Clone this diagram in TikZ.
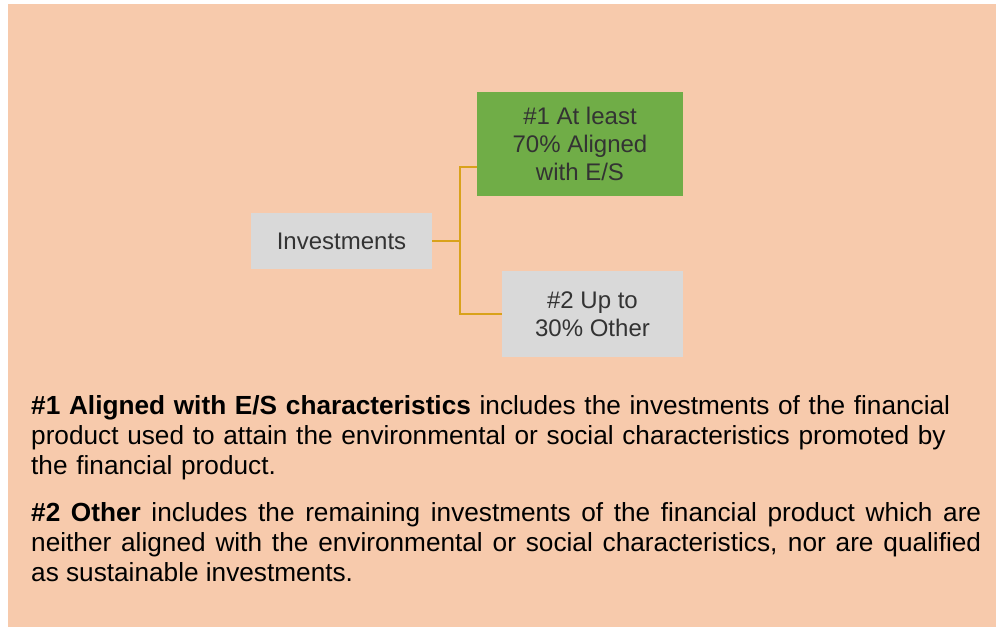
\documentclass[tikz,border=0pt]{standalone}
\usepackage{fontspec}
\setmainfont{Liberation Sans}
\definecolor{bgpeach}{HTML}{F7CAAC}
\definecolor{boxgray}{HTML}{D9D9D9}
\definecolor{boxgreen}{HTML}{70AD47}
\definecolor{conngold}{HTML}{D9A21B}
\definecolor{boxtext}{HTML}{333333}
\tikzset{
  catbox/.style={rectangle, inner sep=0pt, align=center, text=boxtext,
    font=\fontsize{24pt}{28pt}\selectfont},
  conn/.style={draw=conngold, line width=1.5pt},
  para/.style={anchor=north west, inner sep=0pt, text width=950pt,
    font=\fontsize{26.2pt}{30pt}\selectfont, text=black}
}
\begin{document}
\begin{tikzpicture}[x=1pt,y=-1pt]
\useasboundingbox (0,0) rectangle (996,627);
\fill[bgpeach] (8,4) rectangle (996,627);
\node[catbox, fill=boxgray, minimum width=181pt, minimum height=56pt] (inv) at (341.5,241) {Investments};
\node[catbox, fill=boxgreen, minimum width=206pt, minimum height=104pt] (al) at (580,144) {\#1 At least\\70\% Aligned\\with E/S};
\node[catbox, fill=boxgray, minimum width=181pt, minimum height=86pt] (ot) at (592.5,314) {\#2 Up to\\30\% Other};
\draw[conn] (inv.east) -- ++(28,0) coordinate (jn);
\draw[conn] (jn) |- ([yshift=-23pt]al.west);
\draw[conn] (jn) |- (ot.west);
\node[para, align=left] (p1) at (31,395) {\textbf{\#1 Aligned with E/S characteristics} includes the investments of the financial\\product used to attain the environmental or social characteristics promoted by\\the financial product.};
\node[para, align=justify] (p2) at (31,502) {\textbf{\#2 Other} includes the remaining investments of the financial product which are\linebreak neither aligned with the environmental or social characteristics, nor are qualified\linebreak as sustainable investments.};
\end{tikzpicture}
\end{document}
